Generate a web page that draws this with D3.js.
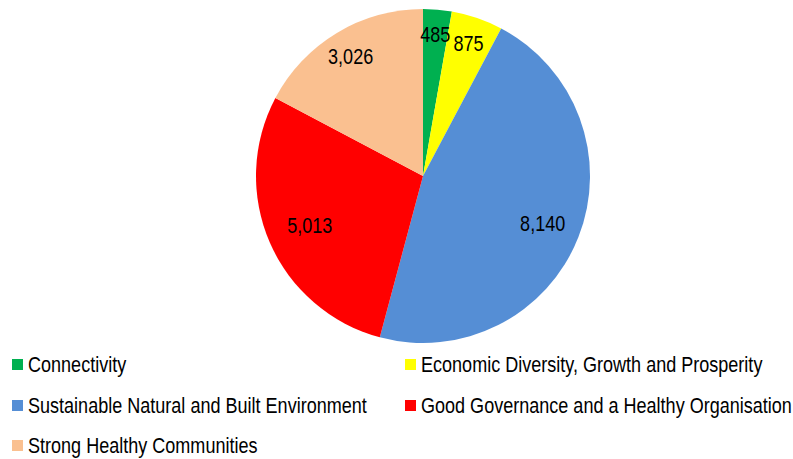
<!DOCTYPE html>
<html>
<head>
<meta charset="utf-8">
<script src="https://cdn.jsdelivr.net/npm/d3@7"></script>
<style>
  body { margin: 0; background: #fff; }
  svg { display: block; }
  text { font-family: "Liberation Sans", Arial, sans-serif; fill: #000; }
</style>
</head>
<body>
<svg id="chart" width="793" height="459"></svg>
<script>
// chart data
const categories = [
  "Connectivity",
  "Economic Diversity, Growth and Prosperity",
  "Sustainable Natural and Built Environment",
  "Good Governance and a Healthy Organisation",
  "Strong Healthy Communities"
];
const values = [485, 875, 8140, 5013, 3026];
const colors = ["#00B050", "#FFFF00", "#558ED5", "#FF0000", "#FAC090"];
// how far out each data label sits, as a share of the radius
const labelRadius = [0.85, 0.84, 0.77, 0.74, 0.84];

const width = 793, height = 459;
const cx = 423, cy = 176, radius = 167;
// no narrow font installed, so squeeze Liberation Sans like Arial Narrow
const narrow = 0.82;

const svg = d3.select("#chart");
const data = categories.map((name, i) => ({ name, value: values[i], color: colors[i], lr: labelRadius[i] }));

const pie = d3.pie().sort(null).value(d => d.value);
const arc = d3.arc().innerRadius(0).outerRadius(radius);
const fmt = d3.format(",");

const g = svg.append("g").attr("transform", `translate(${cx},${cy})`);
const slices = pie(data);

g.selectAll("path.slice")
  .data(slices)
  .join("path")
  .attr("class", "slice")
  .attr("d", arc)
  .attr("fill", d => d.data.color);

g.selectAll("text.label")
  .data(slices)
  .join("text")
  .attr("class", "label")
  .attr("transform", d => {
    const r = radius * d.data.lr;
    const a = (d.startAngle + d.endAngle) / 2;
    return `translate(${Math.sin(a) * r},${-Math.cos(a) * r}) scale(${narrow},1)`;
  })
  .attr("text-anchor", "middle")
  .attr("dy", "0.35em")
  .style("font-size", "22px")
  .text(d => fmt(d.data.value));

// legend, two columns
const legend = svg.append("g");
const colX = [12, 405];
const rowY = [364, 405, 445];

const items = legend.selectAll("g.item")
  .data(data)
  .join("g")
  .attr("class", "item")
  .attr("transform", (d, i) => `translate(${colX[i % 2]},${rowY[Math.floor(i / 2)]})`);

items.append("rect")
  .attr("x", 0)
  .attr("y", -5)
  .attr("width", 11)
  .attr("height", 11)
  .attr("fill", d => d.color);

items.append("text")
  .attr("transform", `translate(16,0) scale(${narrow},1)`)
  .attr("dy", "0.35em")
  .style("font-size", "22px")
  .text(d => d.name);
</script>
</body>
</html>
